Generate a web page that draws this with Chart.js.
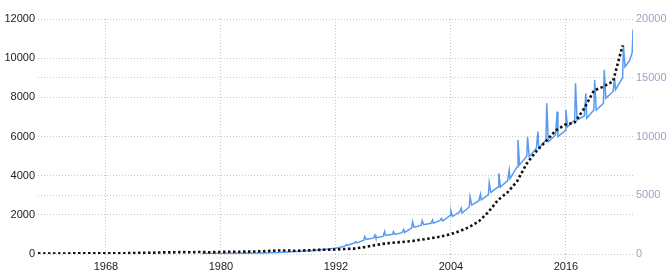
<!DOCTYPE html>
<html>
<head>
<meta charset="utf-8">
<script src="https://cdn.jsdelivr.net/npm/chart.js@4.4.0/dist/chart.umd.min.js"></script>
<style>
  html, body { margin: 0; padding: 0; background: #fff; }
  #wrap { width: 670px; height: 279px; }
</style>
</head>
<body>
<div id="wrap"><canvas id="chart" width="670" height="279"></canvas></div>
<script>
// x axis tick labels
const xTickYears = [1968, 1980, 1992, 2004, 2016];

// black dotted series, one value per year (right axis)
const blackYears = [
    1960, 1961, 1962, 1963, 1964, 1965, 1966, 1967, 1968, 1969,
    1970, 1971, 1972, 1973, 1974, 1975, 1976, 1977, 1978, 1979,
    1980, 1981, 1982, 1983, 1984, 1985, 1986, 1987, 1988, 1989,
    1990, 1991, 1992, 1993, 1994, 1995, 1996, 1997, 1998, 1999,
    2000, 2001, 2002, 2003, 2004, 2005, 2006, 2007, 2008, 2009,
    2010, 2011, 2012, 2013, 2014, 2015, 2016, 2017, 2018, 2019,
    2020, 2021
];
const blackValues = [
    50, 45, 45, 48, 55, 60, 65, 60, 60, 70,
    90, 95, 110, 135, 140, 160, 150, 170, 150, 175,
    190, 195, 205, 225, 255, 300, 295, 270, 310, 345,
    360, 380, 425, 460, 580, 730, 860, 960, 1025, 1100,
    1220, 1340, 1480, 1670, 1950, 2290, 2780, 3580, 4600, 5250,
    6200, 7700, 8750, 9600, 10500, 11000, 11200, 12400, 13900, 14250,
    14700, 17750
];

// blue monthly series (left axis), key months
const blueMonths = [
    '1978-01', '1980-01', '1982-01', '1984-01', '1986-01', '1988-01', '1989-06', '1990-06', '1991-06', '1991-12', '1992-06', '1992-12',
    '1993-02', '1993-03', '1993-12',
    '1994-02', '1994-03', '1994-12',
    '1995-01', '1995-03', '1995-12',
    '1996-02', '1996-03', '1996-12',
    '1997-02', '1997-03', '1997-12',
    '1998-01', '1998-03', '1998-12',
    '1999-02', '1999-03', '1999-12',
    '2000-01', '2000-03', '2000-12',
    '2001-01', '2001-03', '2001-12',
    '2002-02', '2002-03', '2002-12',
    '2003-01', '2003-03', '2003-12',
    '2004-01', '2004-03', '2004-12',
    '2005-02', '2005-03', '2005-12',
    '2006-01', '2006-03', '2006-12',
    '2007-02', '2007-03', '2007-12',
    '2008-01', '2008-03', '2008-12',
    '2009-01', '2009-03', '2009-12',
    '2010-02', '2010-03', '2010-12',
    '2011-01', '2011-03', '2011-12',
    '2012-01', '2012-03', '2012-12',
    '2013-02', '2013-03', '2013-12',
    '2014-01', '2014-03', '2014-12',
    '2015-02', '2015-03', '2015-12',
    '2016-01', '2016-03', '2016-12',
    '2017-01', '2017-03', '2017-12',
    '2018-02', '2018-03', '2018-12',
    '2019-01', '2019-03', '2019-12',
    '2020-01', '2020-03', '2020-12',
    '2021-02', '2021-03', '2021-12',
    '2022-01', '2022-03', '2022-09', '2022-12',
    '2023-01'
];
const blueValues = [
    22, 28, 36, 50, 75, 130, 170, 220, 265, 291, 340, 400,
    480, 440, 560,
    628, 570, 700,
    900, 750, 810,
    970, 830, 900,
    1150, 950, 1010,
    1140, 1000, 1090,
    1260, 1100, 1340,
    1640, 1360, 1470,
    1700, 1500, 1570,
    1740, 1570, 1730,
    1820, 1690, 1970,
    2210, 1920, 2150,
    2340, 2090, 2400,
    2930, 2500, 2720,
    3050, 2760, 3030,
    3650, 3150, 3420,
    4120, 3420, 3750,
    4290, 3850, 4460,
    5820, 4550, 5000,
    5990, 4970, 5400,
    6250, 5400, 5820,
    7700, 5740, 6080,
    7270, 5990, 6300,
    7350, 6500, 6840,
    8720, 6840, 7050,
    8210, 6930, 7350,
    8890, 7350, 7700,
    9400, 7950, 8300,
    8970, 8380, 9000,
    10670, 9560, 9900, 10300,
    11470
];

function monthToYear(s) {
    const [y, m] = s.split('-').map(Number);
    return y + (m - 1) / 12;
}

// annual figures are dated at December of each year
const blackPoints = blackYears.map((y, i) => ({ x: y + 11 / 12, y: blackValues[i] }));
const bluePoints = blueMonths.map((m, i) => ({ x: monthToYear(m), y: blueValues[i] }));

Chart.defaults.font.family = '"Liberation Sans", Arial, sans-serif';
Chart.defaults.font.size = 11;

const gridColor = '#c8c8c8';

new Chart(document.getElementById('chart').getContext('2d'), {
    type: 'line',
    data: {
        datasets: [{
            label: 'black',
            data: blackPoints,
            yAxisID: 'y1',
            borderColor: '#111',
            borderWidth: 2.6,
            borderDash: [2.5, 2.5],
            pointRadius: 0,
            fill: false,
            tension: 0
        }, {
            label: 'blue',
            data: bluePoints,
            yAxisID: 'y',
            borderColor: '#5a9bef',
            borderWidth: 1.5,
            pointRadius: 0,
            fill: false,
            tension: 0
        }]
    },
    options: {
        responsive: false,
        animation: false,
        layout: { padding: { top: 19, left: 0, right: 0, bottom: 0 } },
        plugins: {
            legend: { display: false },
            tooltip: { enabled: false }
        },
        scales: {
            x: {
                type: 'linear',
                min: blackPoints[0].x,
                max: bluePoints[bluePoints.length - 1].x,
                afterBuildTicks: s => { s.ticks = xTickYears.map(v => ({ value: v })); },
                afterFit: s => { s.height = 25; },
                ticks: {
                    color: '#222',
                    padding: 2,
                    maxRotation: 0,
                    autoSkip: false,
                    callback: v => String(v)
                },
                grid: { color: gridColor, tickLength: 4, tickBorderDash: [1, 2] },
                border: { display: false, dash: [1, 2] }
            },
            y: {
                position: 'left',
                min: 0,
                max: 12000,
                afterFit: s => { s.width = 38; },
                ticks: { stepSize: 2000, color: '#222', padding: 3, callback: v => String(v) },
                grid: { color: gridColor, drawTicks: false },
                border: { display: false, dash: [1, 2] }
            },
            y1: {
                position: 'right',
                min: 0,
                max: 20000,
                afterFit: s => { s.width = 37; },
                ticks: { stepSize: 5000, color: '#a99cc2', padding: 3, callback: v => String(v) },
                grid: { color: gridColor, drawTicks: false },
                border: { display: false, dash: [1, 2] }
            }
        }
    }
});
</script>
</body>
</html>
